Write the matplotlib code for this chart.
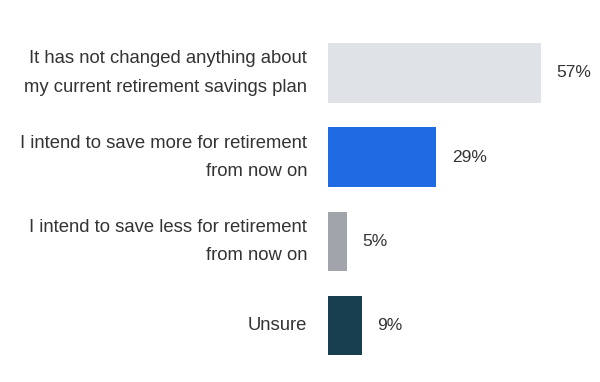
import matplotlib.pyplot as plt

labels = [
    "It has not changed anything about\nmy current retirement savings plan",
    "I intend to save more for retirement\nfrom now on",
    "I intend to save less for retirement\nfrom now on",
    "Unsure",
]
values = [57, 29, 5, 9]
colors = ["#dfe3e8", "#1f6be3", "#a2a4ab", "#183f4f"]

plt.rcParams['font.family'] = ['Liberation Sans', 'DejaVu Sans']

fig = plt.figure(figsize=(6, 3.82), dpi=100)
ax = fig.add_axes([328 / 600, 0, 1 - 328 / 600, 1])

pos = list(range(len(values)))
ax.barh(pos, values, height=0.71, color=colors)

for p, v in zip(pos, values):
    ax.text(v + 4.3, p, f"{v}%", va='center', ha='left', fontsize=12.5, color='#333333')

# category labels, right-aligned left of the bars
for p, lab in zip(pos, labels):
    ax.text(-21 / 272, p, lab, transform=ax.get_yaxis_transform(),
            ha='right', va='center', fontsize=13.3, color='#333333',
            linespacing=1.85)

ax.set_xlim(0, 72.9)
ax.set_ylim(3.67, -0.867)
ax.set_xticks([])
ax.set_yticks([])
for s in ax.spines.values():
    s.set_visible(False)

fig.savefig("out.png", dpi=100)
